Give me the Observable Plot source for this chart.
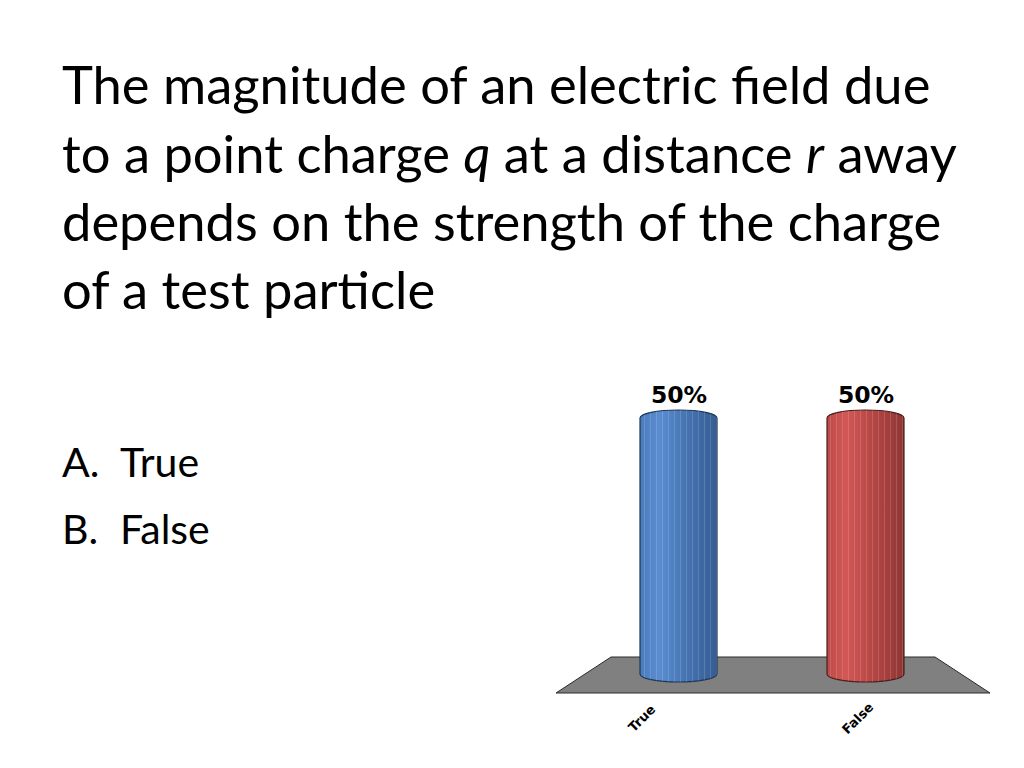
<!DOCTYPE html>
<html>
<head>
<meta charset="utf-8">
<script src="https://cdn.jsdelivr.net/npm/d3@7"></script>
<script src="https://cdn.jsdelivr.net/npm/@observablehq/plot@0.6"></script>
<style>
  html, body { margin: 0; padding: 0; background: #fff; }
  body { width: 1024px; height: 768px; position: relative; overflow: hidden; font-family: Lato, "Open Sans", sans-serif; color: #000; }
  #title { position: absolute; left: 62px; top: 0; }
  #title div { position: absolute; left: 0; white-space: nowrap; line-height: 1; }
  #answers div { position: absolute; left: 62px; white-space: nowrap; line-height: 1; }
  #answers span.lab { display: inline-block; width: 58px; }
  #chart { position: absolute; left: 540px; top: 370px; }
</style>
</head>
<body>
<div id="title"></div>
<div id="answers"></div>
<div id="chart"></div>
<script>
// ---- data ----
const titleLines = [
  "The magnitude of an electric field due",
  "to a point charge <i>q</i> at a distance <i>r</i> away",
  "depends on the strength of the charge",
  "of a test particle"
];
const answerLetters = ["A.", "B."];
const categories = ["True", "False"];
const percents = [50, 50];

const data = categories.map((c, i) => ({category: c, value: percents[i]}));

// ---- title text ----
const titleEl = document.getElementById("title");
const baselines = [100, 169, 237, 305];
const fs = 52.5;
titleLines.forEach((t, i) => {
  const d = document.createElement("div");
  d.innerHTML = t;
  d.style.fontSize = fs + "px";
  d.style.top = (baselines[i] - fs * 0.80) + "px";
  titleEl.appendChild(d);
});
const ansEl = document.getElementById("answers");
const ansBase = [474, 541];
const afs = 41;
categories.forEach((c, i) => {
  const d = document.createElement("div");
  d.innerHTML = `<span class="lab">${answerLetters[i]}</span>${c}`;
  d.style.fontSize = afs + "px";
  d.style.top = (ansBase[i] - afs * 0.80) + "px";
  ansEl.appendChild(d);
});

// ---- chart ----
const W = 470, H = 390;
const colors = {True: "url(#gBlue)", False: "url(#gRed)"};
const strokes = {True: "#1f3556", False: "#4a1e1c"};

const plot = Plot.plot({
  width: W, height: H,
  marginLeft: 45.5, marginRight: 50.5, marginTop: 40, marginBottom: 78,
  style: {background: "transparent", overflow: "visible"},
  x: {domain: categories, paddingInner: 0.588, paddingOuter: 0.294, align: 0.5, axis: null},
  y: {domain: [0, 50], axis: null},
  marks: [
    Plot.barY(data, {x: "category", y: "value", fill: d => colors[d.category], stroke: d => strokes[d.category], strokeWidth: 1.2, rx: 38, ry: 8}),
    Plot.barY(data, {x: "category", y: "value", fill: "url(#stripes)", rx: 38, ry: 8}),
    Plot.text(data, {x: "category", y: "value", text: d => d.value + "%", lineAnchor: "bottom", dy: -8, fontSize: 23.5, fontWeight: "bold", fontFamily: "DejaVu Sans", fill: "#000"}),
    Plot.text(data.filter(d => d.category === "True"), {x: "category", y: 0, text: "category", dx: -37, dy: 36, rotate: -45, textAnchor: "middle", fontSize: 13, fontWeight: "bold", fontFamily: "DejaVu Sans", fill: "#000"}),
    Plot.text(data.filter(d => d.category === "False"), {x: "category", y: 0, text: "category", dx: -8, dy: 36, rotate: -45, textAnchor: "middle", fontSize: 13, fontWeight: "bold", fontFamily: "DejaVu Sans", fill: "#000"})
  ]
});

// gradients and stripes
const ns = "http://www.w3.org/2000/svg";
const defs = document.createElementNS(ns, "defs");
defs.innerHTML = `
  <linearGradient id="gBlue" x1="0" x2="1" y1="0" y2="0">
    <stop offset="0" stop-color="#4a7bbd"/>
    <stop offset="0.25" stop-color="#5a8dd0"/>
    <stop offset="0.6" stop-color="#4674b2"/>
    <stop offset="1" stop-color="#345d92"/>
  </linearGradient>
  <linearGradient id="gRed" x1="0" x2="1" y1="0" y2="0">
    <stop offset="0" stop-color="#bd4a47"/>
    <stop offset="0.25" stop-color="#d15855"/>
    <stop offset="0.6" stop-color="#b54644"/>
    <stop offset="1" stop-color="#8e3634"/>
  </linearGradient>
  <pattern id="stripes" patternUnits="userSpaceOnUse" width="6" height="10">
    <rect x="2" y="0" width="1" height="10" fill="#ffffff" fill-opacity="0.14"/>
  </pattern>`;
plot.insertBefore(defs, plot.firstChild);

// floor (background plane of the 3D chart), placed through the scales
const xs = plot.scale("x"), ys = plot.scale("y");
const [r0, r1] = xs.range;
const y0 = ys.apply(0);
const floor = document.createElementNS(ns, "polygon");
const pts = [
  [r0 + 25.5, y0 - 25], [r1 - 24.5, y0 - 25],
  [r1 + 30.5, y0 + 11], [r0 - 29.5, y0 + 11]
];
floor.setAttribute("points", pts.map(p => p.join(",")).join(" "));
floor.setAttribute("fill", "#808080");
floor.setAttribute("stroke", "#2b2b2b");
floor.setAttribute("stroke-width", "1");
plot.insertBefore(floor, defs.nextSibling);

document.getElementById("chart").appendChild(plot);
</script>
</body>
</html>
